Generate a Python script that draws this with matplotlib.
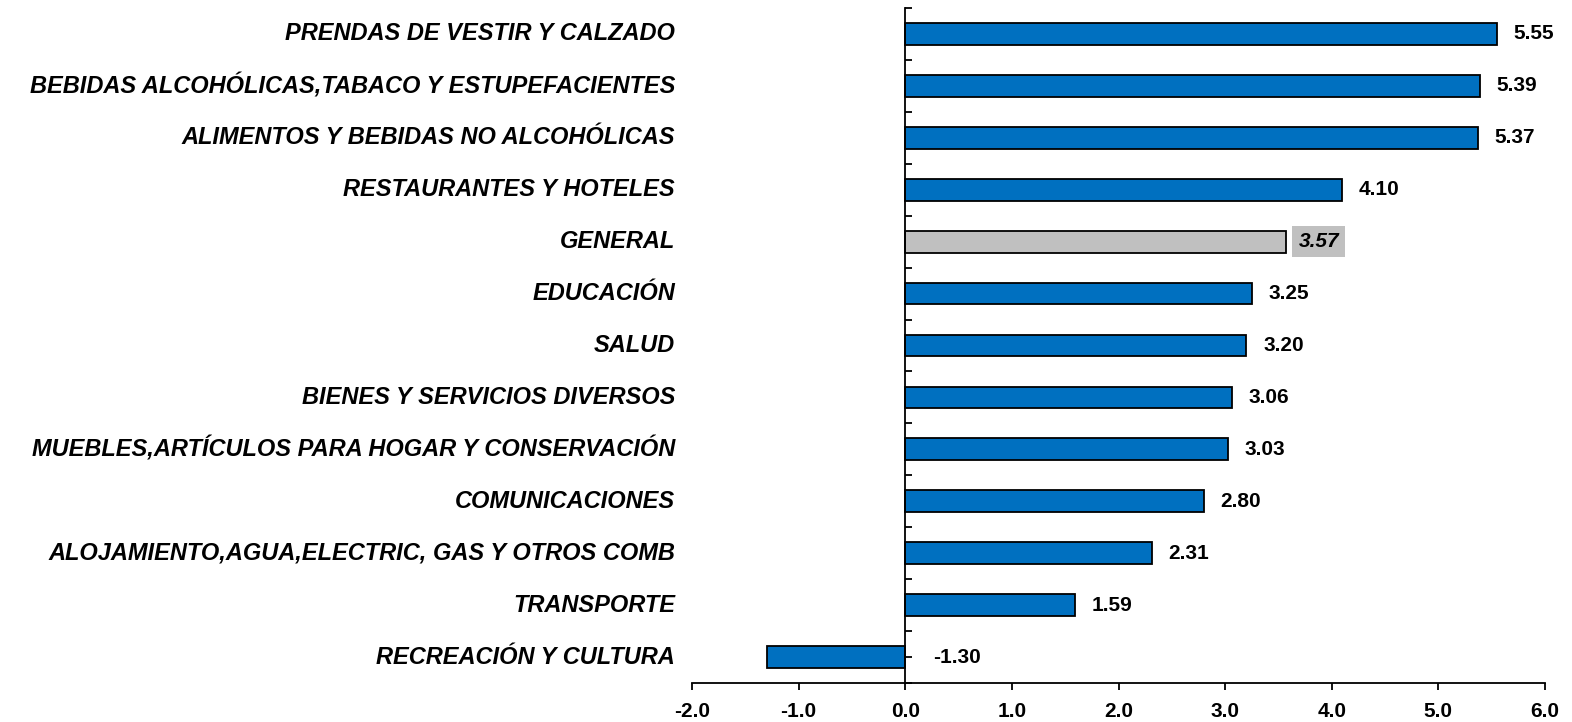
import matplotlib
matplotlib.use("Agg")
import matplotlib.pyplot as plt
from matplotlib.ticker import FixedLocator
import matplotlib.transforms as mtransforms

categories = [
    "PRENDAS DE VESTIR Y CALZADO",
    "BEBIDAS ALCOHÓLICAS,TABACO Y ESTUPEFACIENTES",
    "ALIMENTOS Y BEBIDAS NO ALCOHÓLICAS",
    "RESTAURANTES Y HOTELES",
    "GENERAL",
    "EDUCACIÓN",
    "SALUD",
    "BIENES Y SERVICIOS DIVERSOS",
    "MUEBLES,ARTÍCULOS PARA HOGAR Y CONSERVACIÓN",
    "COMUNICACIONES",
    "ALOJAMIENTO,AGUA,ELECTRIC, GAS Y OTROS COMB",
    "TRANSPORTE",
    "RECREACIÓN Y CULTURA",
]
values = [5.55, 5.39, 5.37, 4.10, 3.57, 3.25, 3.20, 3.06, 3.03, 2.80, 2.31, 1.59, -1.30]
highlight = "GENERAL"
x_ticks = [-2.0, -1.0, 0.0, 1.0, 2.0, 3.0, 4.0, 5.0, 6.0]

plt.rcParams['font.family'] = ['Liberation Sans', 'DejaVu Sans']

fig = plt.figure(figsize=(15.72, 7.22), dpi=100)
ax = fig.add_axes([692/1572, 1-683/722, (1545-692)/1572, (683-8)/722])

n = len(categories)
ys = list(range(n))
colors = ['#C0C0C0' if c == highlight else '#0070C0' for c in categories]
ax.barh(ys, values, height=0.42, color=colors, edgecolor='black', linewidth=1.3, zorder=2)

ax.set_xlim(-2, 6)
ax.set_ylim(n - 0.5, -0.5)

ax.spines['top'].set_visible(False)
ax.spines['right'].set_visible(False)
ax.spines['left'].set_position(('data', 0))
ax.spines['left'].set_linewidth(1.3)
ax.spines['bottom'].set_linewidth(1.3)
ax.spines['left'].set_zorder(3)

ax.set_xticks(x_ticks)
ax.set_xticklabels([f"{t:.1f}" for t in x_ticks], fontsize=15, fontweight='bold')
ax.tick_params(axis='x', direction='out', length=5, width=1.3, pad=9)

ax.yaxis.set_major_locator(FixedLocator(ys))
ax.yaxis.set_minor_locator(FixedLocator([y - 0.5 for y in ys] + [n - 0.5]))
ax.set_yticklabels([])
ax.tick_params(axis='y', which='both', direction='in', length=5, width=1.3)

trans = mtransforms.blended_transform_factory(ax.transAxes, ax.transData)
for y, c in zip(ys, categories):
    ax.text(-0.02, y, c, transform=trans, ha='right', va='center',
            fontsize=17, fontweight='bold', fontstyle='italic')

for y, v, c in zip(ys, values, categories):
    xpos = max(v, 0)
    label = f"{v:.2f}"
    if c == highlight:
        ax.annotate(label, (xpos, y), xytext=(9, 0), textcoords='offset points',
                    ha='left', va='center', fontsize=15, fontweight='bold', fontstyle='italic',
                    bbox=dict(boxstyle='square,pad=0.3', facecolor='#C0C0C0', edgecolor='none'))
    else:
        ax.annotate(label, (xpos, y), xytext=(12 if v >= 0 else 20, 0), textcoords='offset points',
                    ha='left', va='center', fontsize=15, fontweight='bold')

fig.savefig("out.png", dpi=100)
